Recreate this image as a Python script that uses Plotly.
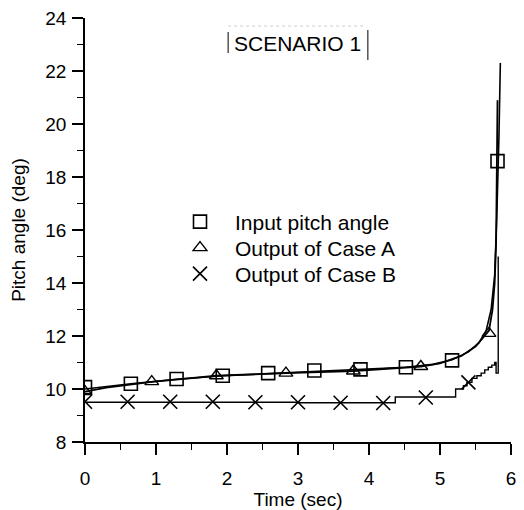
import plotly.graph_objects as go

# Input pitch angle (line)
t_in = [0, 0.3, 0.646, 1.29, 1.94, 2.58, 3.23, 3.88, 4.52, 4.9, 5.17, 5.4, 5.55, 5.65, 5.72, 5.77, 5.8, 5.83, 5.85]
y_in = [10.0, 10.1, 10.2, 10.37, 10.5, 10.58, 10.66, 10.72, 10.82, 10.93, 11.1, 11.4, 11.75, 12.2, 13.0, 14.3, 16.5, 19.5, 22.3]
# Input markers
tm_in = [0, 0.646, 1.29, 1.94, 2.58, 3.23, 3.88, 4.52, 5.17, 5.81]
ym_in = [10.07, 10.2, 10.38, 10.5, 10.6, 10.7, 10.74, 10.82, 11.08, 18.6]

# Output of Case A (line)
t_a = [0, 0.3, 0.94, 1.85, 2.83, 3.78, 4.73, 5.0, 5.3, 5.5, 5.69, 5.74, 5.77, 5.79, 5.81]
y_a = [9.9, 10.05, 10.27, 10.5, 10.6, 10.68, 10.85, 10.97, 11.25, 11.6, 12.2, 13.0, 14.0, 15.5, 20.9]
tm_a = [0, 0.94, 1.85, 2.83, 3.78, 4.73, 5.69]
ym_a = [9.9, 10.28, 10.5, 10.6, 10.68, 10.85, 12.1]

# Output of Case B (stepped line)
t_b = [0, 3.0, 4.37, 5.22, 5.33, 5.38, 5.45, 5.52, 5.58, 5.63, 5.68, 5.73, 5.77, 5.79, 5.82]
y_b = [9.5, 9.48, 9.7, 10.0, 10.12, 10.25, 10.4, 10.5, 10.6, 10.72, 10.82, 10.9, 11.0, 10.6, 15.0]
tm_b = [0, 0.6, 1.2, 1.8, 2.4, 3.0, 3.6, 4.2, 4.8, 5.4]
ym_b = [9.52, 9.52, 9.52, 9.52, 9.5, 9.5, 9.48, 9.47, 9.68, 10.25]

FONT = "Liberation Sans, Arial, sans-serif"
fig = go.Figure()

fig.add_trace(go.Scatter(x=t_in, y=y_in, mode="lines", line=dict(color="black", width=1.6),
                         showlegend=False, hoverinfo="skip"))
fig.add_trace(go.Scatter(x=t_a, y=y_a, mode="lines", line=dict(color="black", width=1.8),
                         showlegend=False, hoverinfo="skip"))
fig.add_trace(go.Scatter(x=t_b, y=y_b, mode="lines", line=dict(color="black", width=1.4, shape="hv"),
                         showlegend=False, hoverinfo="skip"))

fig.add_trace(go.Scatter(x=tm_in, y=ym_in, mode="markers", name="Input pitch angle", legend="legend",
                         marker=dict(symbol="square-open", size=13, color="black", line=dict(width=1.6))))
fig.add_trace(go.Scatter(x=tm_a, y=ym_a, mode="markers", name="Output of Case A", legend="legend2",
                         marker=dict(symbol="triangle-up-open", size=12, color="black", line=dict(width=1.4))))
fig.add_trace(go.Scatter(x=tm_b, y=ym_b, mode="markers", name="Output of Case B", legend="legend3",
                         marker=dict(symbol="x-thin-open", size=14, color="black", line=dict(width=1.6))))

# plot area on screen: x 85..511, y 18..442 (page body has 8px margin)
PX0, PW, PY0, PH = 85, 426, 18, 424


def py(screen_y):
    return 1 - (screen_y - PY0) / PH


def leg(row_y):
    return dict(x=(165 - PX0) / PW, y=py(row_y), xanchor="left", yanchor="middle",
                bgcolor="rgba(0,0,0,0)", borderwidth=0,
                font=dict(size=21, family=FONT), itemwidth=60)


fig.update_layout(
    width=524, height=510,
    margin=dict(l=77, r=21, t=10, b=76),
    plot_bgcolor="white", paper_bgcolor="white",
    font=dict(family=FONT, color="black", size=19),
    legend=leg(222), legend2=leg(248), legend3=leg(274),
    annotations=[dict(text="SCENARIO 1", x=0.498, y=py(43), xref="paper", yref="paper",
                      xanchor="center", yanchor="middle", showarrow=False,
                      font=dict(size=21, family=FONT))],
    shapes=[
        dict(type="line", xref="paper", yref="paper", x0=0.336, x1=0.336, y0=py(53), y1=py(32),
             line=dict(color="black", width=1)),
        dict(type="line", xref="paper", yref="paper", x0=0.664, x1=0.664, y0=py(60), y1=py(30),
             line=dict(color="black", width=1)),
        dict(type="line", xref="paper", yref="paper", x0=0.336, x1=0.66, y0=py(26), y1=py(26),
             line=dict(color="#cccccc", width=1, dash="dot")),
    ],
)

fig.update_xaxes(range=[0, 6], dtick=1, showgrid=False, zeroline=False, automargin=False,
                 showline=True, linecolor="black", linewidth=1.5,
                 ticks="outside", ticklen=11, tickwidth=1.5, tickcolor="black",
                 ticklabelstandoff=7, ticklabeloverflow="allow",
                 minor=dict(dtick=0.5, ticks="outside", ticklen=6, tickwidth=1.2, tickcolor="black"),
                 title=dict(text="Time (sec)", font=dict(size=19), standoff=0),
                 tickfont=dict(size=19))
fig.update_yaxes(range=[8, 24], dtick=2, showgrid=False, zeroline=False, automargin=False,
                 showline=True, linecolor="black", linewidth=1.5,
                 ticks="outside", ticklen=11, tickwidth=1.5, tickcolor="black",
                 ticklabelstandoff=2, ticklabeloverflow="allow",
                 minor=dict(dtick=1, ticks="outside", ticklen=6, tickwidth=1.2, tickcolor="black"),
                 title=dict(text="Pitch angle (deg)", font=dict(size=19), standoff=16),
                 tickfont=dict(size=19))

fig.write_html("out.html")
